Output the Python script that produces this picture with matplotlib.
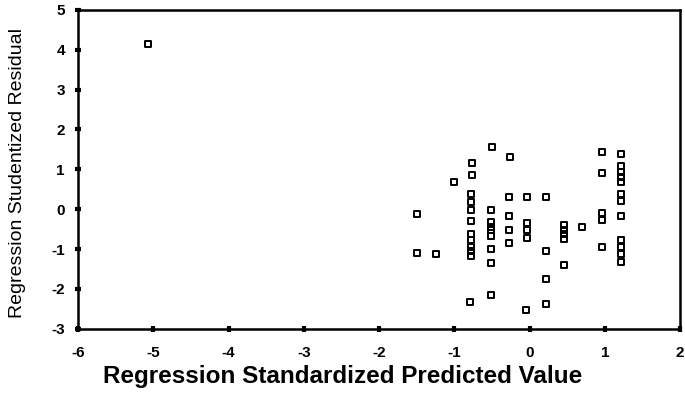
import matplotlib
matplotlib.use('Agg')
import matplotlib.pyplot as plt
from matplotlib.path import Path

# predicted value (x) and studentized residual (y)
pred = [-5.07,
        -1.50, -1.50, -1.25, -1.00,
        -0.76, -0.76, -0.78, -0.78, -0.78, -0.78, -0.78, -0.78, -0.78, -0.78, -0.78, -0.79,
        -0.50, -0.52, -0.52, -0.52, -0.52, -0.52, -0.52, -0.52, -0.52,
        -0.26, -0.28, -0.28, -0.28, -0.28,
        -0.03, -0.03, -0.03, -0.03, -0.05,
        0.22, 0.22, 0.22, 0.22,
        0.46, 0.46, 0.46, 0.46, 0.46,
        0.70,
        0.96, 0.96, 0.96, 0.96, 0.96,
        1.22, 1.22, 1.22, 1.22, 1.22, 1.22, 1.22, 1.22, 1.22, 1.22, 1.22, 1.22]
resid = [4.15,
         -0.11, -1.10, -1.13, 0.69,
         1.17, 0.87, 0.39, 0.18, -0.01, -0.29, -0.63, -0.78, -0.96, -1.05, -1.18, -2.33,
         1.55, -0.01, -0.32, -0.45, -0.53, -0.68, -0.99, -1.35, -2.16,
         1.32, 0.31, -0.18, -0.51, -0.86,
         0.31, -0.34, -0.53, -0.71, -2.52,
         0.31, -1.05, -1.74, -2.39,
         -0.40, -0.53, -0.63, -0.75, -1.41,
         -0.45,
         1.43, 0.90, -0.09, -0.28, -0.96,
         1.38, 1.08, 0.94, 0.81, 0.69, 0.39, 0.20, -0.18, -0.78, -0.95, -1.13, -1.33]

x_ticks = [-6, -5, -4, -3, -2, -1, 0, 1, 2]
y_ticks = [-3, -2, -1, 0, 1, 2, 3, 4, 5]

# flat rectangle marker like the SPSS output
rect = Path([(-1, -0.75), (1, -0.75), (1, 0.75), (-1, 0.75), (-1, -0.75)],
            [Path.MOVETO, Path.LINETO, Path.LINETO, Path.LINETO, Path.CLOSEPOLY])

plt.rcParams['font.family'] = ['Liberation Sans', 'DejaVu Sans']
plt.rcParams['axes.unicode_minus'] = False

fig = plt.figure(figsize=(6.85, 4.11), dpi=100)
ax = fig.add_axes([0.114, 0.2, 0.879, 0.776])

ax.plot(pred, resid, linestyle='none', marker=rect, markersize=5,
        markerfacecolor='none', markeredgecolor='black', markeredgewidth=1.4)

ax.set_xlim(-6, 2)
ax.set_ylim(-3, 5)
ax.set_xticks(x_ticks)
ax.set_yticks(y_ticks)
for s in ax.spines.values():
    s.set_linewidth(1.8)
ax.tick_params(direction='inout', length=5, width=3, labelsize=11, pad=7)
ax.tick_params(axis='x', pad=10)
for lab in ax.get_xticklabels() + ax.get_yticklabels():
    lab.set_fontweight('bold')

ax.set_xlabel('Regression Standardized Predicted Value', fontsize=17.5,
              fontweight='semibold', va='center')
ax.xaxis.set_label_coords(0.44, -0.15)
ax.set_ylabel('Regression Studentized Residual', fontsize=14,
              family=['Liberation Sans Narrow', 'Liberation Sans', 'DejaVu Sans'],
              va='center')
ax.yaxis.set_label_coords(-0.1, 0.49)

fig.savefig('out.png', dpi=100)
